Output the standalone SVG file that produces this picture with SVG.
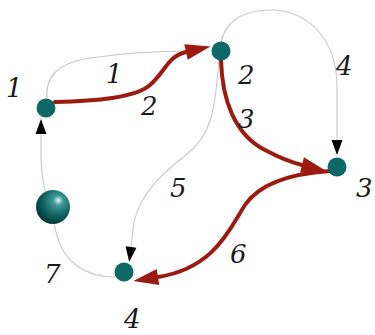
<svg xmlns="http://www.w3.org/2000/svg" width="375" height="335" viewBox="0 0 375 335">
<style>
.g{fill:none;stroke:#c8c8c8;stroke-width:1.1}
.r{fill:none;stroke:#9c1a10;stroke-width:4;stroke-linecap:round}
.n{fill:#0d6868}
text{font-family:"DejaVu Serif",serif;font-style:italic;font-size:26px;fill:#1a1a1a}
</style>
<defs>
<marker id="ra" markerUnits="userSpaceOnUse" markerWidth="26" markerHeight="18" refX="0" refY="9" orient="auto" overflow="visible">
<path d="M0,1 L25,9 L0,17 Z" fill="#9c1a10"/>
</marker>
<marker id="ka" markerUnits="userSpaceOnUse" markerWidth="16" markerHeight="12" refX="0" refY="6" orient="auto" overflow="visible">
<path d="M0,0.5 L15,6 L0,11.5 Z" fill="#000"/>
</marker>
<radialGradient id="sph" cx="0.62" cy="0.35" r="0.75" fx="0.66" fy="0.3">
<stop offset="0" stop-color="#d9f4f2"/>
<stop offset="0.2" stop-color="#3f9896"/>
<stop offset="0.6" stop-color="#0d5f5e"/>
<stop offset="1" stop-color="#032a2a"/>
</radialGradient>
</defs>
<g id="connectors">
<path class="g" d="M47,99 C45,76 58,63 90,58 C130,52 165,51 190,51"/>
<path class="g" d="M221,43 C225,20 245,9 275,10 C312,13 336,42 337,85 L337,140" marker-end="url(#ka)"/>
<path class="g" d="M219,60 C215,110 212,135 186,155 C160,175 140,195 134,222 L131,247" marker-end="url(#ka)"/>
<path class="g" d="M115,277 C85,277 63,262 56,232 C50,205 42,190 41,160 L41,134" marker-end="url(#ka)"/>
<path class="r" d="M55,102 C95,101 135,98 150,85 C165,72 168,56 186,52" marker-end="url(#ra)"/>
<path class="r" d="M221,60 C222,100 235,135 265,150 C280,158 290,162 302,165" marker-end="url(#ra)"/>
<path class="r" d="M330,171 C300,173 262,180 245,205 C230,228 215,268 158,277" marker-end="url(#ra)"/>
</g>
<g id="node1"><circle class="n" cx="46" cy="108" r="9.5"/></g>
<g id="node2"><circle class="n" cx="221" cy="51" r="9.5"/></g>
<g id="node3"><circle class="n" cx="337" cy="167" r="9.5"/></g>
<g id="node4"><circle class="n" cx="124" cy="272" r="9.5"/></g>
<g id="sphere"><circle cx="53" cy="207" r="17" fill="url(#sph)"/></g>
<g id="labels">
<text x="6" y="97">1</text>
<text x="106" y="83">1</text>
<text x="141" y="115">2</text>
<text x="238" y="84">2</text>
<text x="238" y="128">3</text>
<text x="336" y="75">4</text>
<text x="356" y="197">3</text>
<text x="170" y="197">5</text>
<text x="230" y="263">6</text>
<text x="44" y="283">7</text>
<text x="124" y="328">4</text>
</g>
</svg>
